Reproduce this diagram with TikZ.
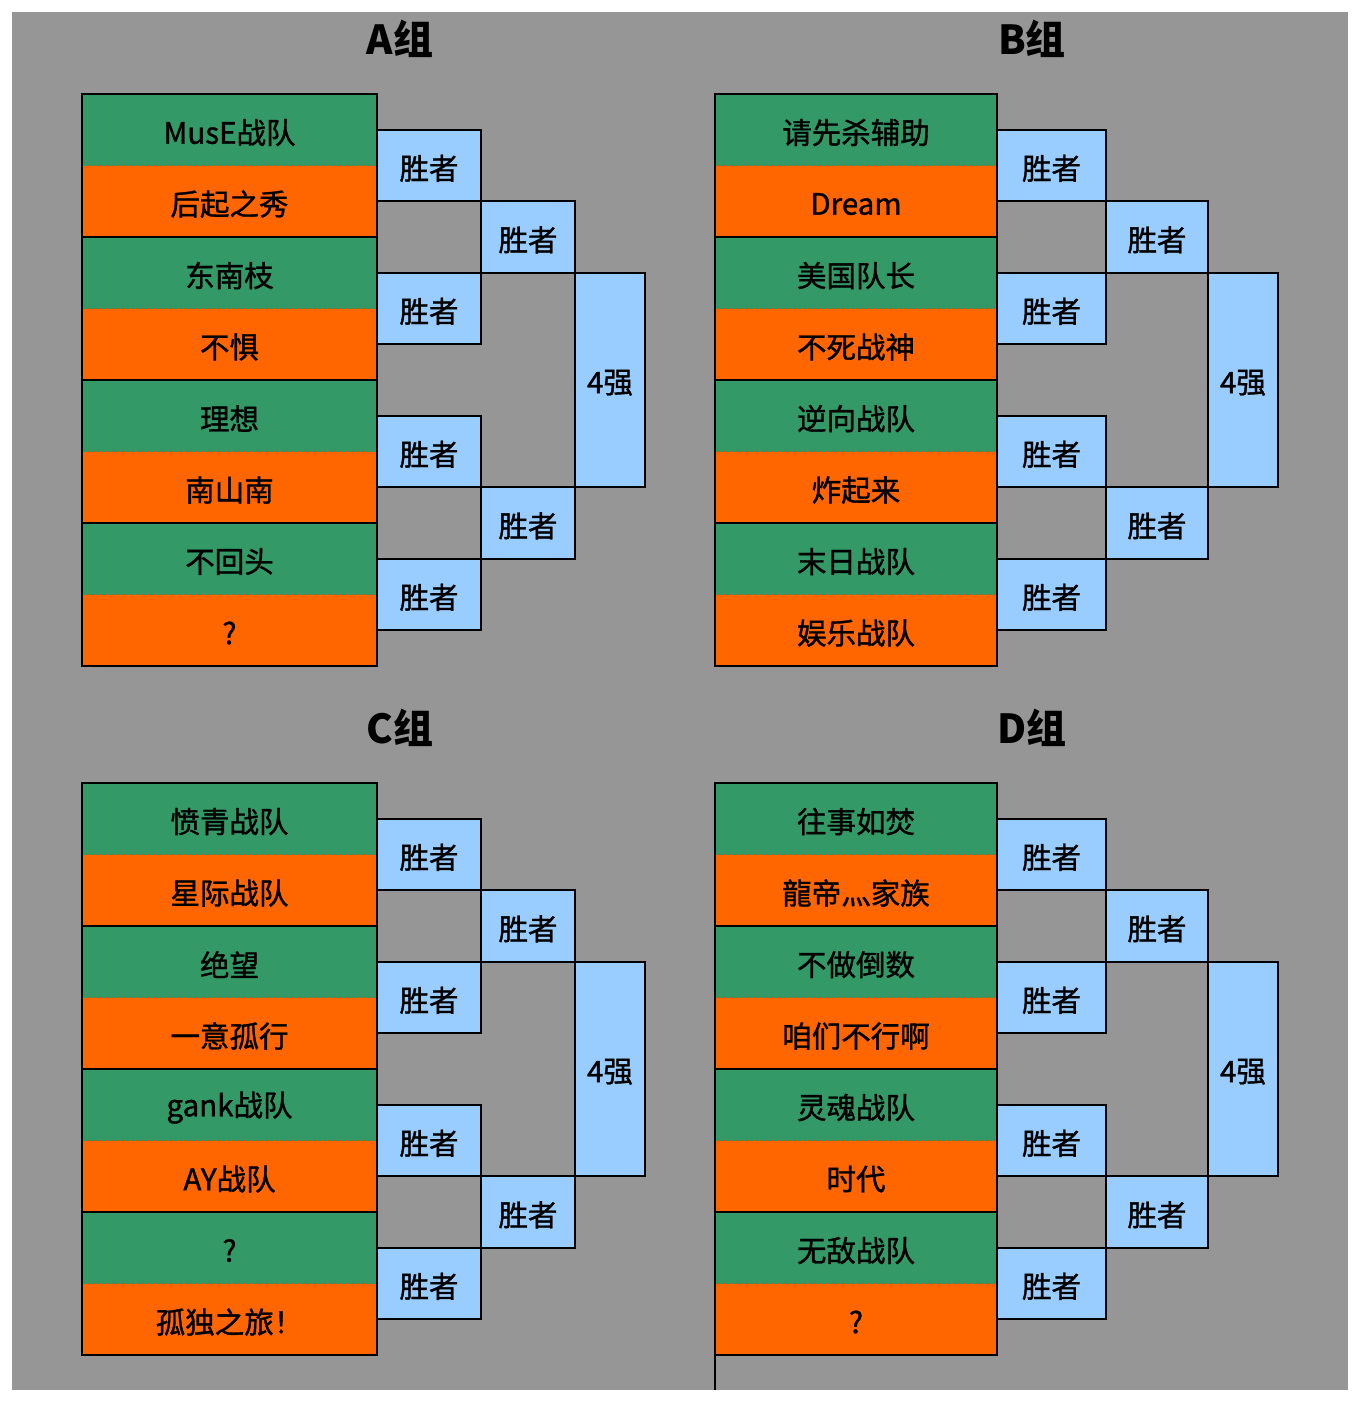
\documentclass[tikz,border=0pt]{standalone}
\usepackage{fontspec}
\setmainfont{Noto Sans CJK SC}
\newfontfamily\teamfont{Noto Sans CJK SC}[FakeBold=1.2]
\definecolor{tgreen}{RGB}{51,153,102}
\definecolor{torange}{RGB}{255,102,0}
\definecolor{tblue}{RGB}{153,204,255}
\definecolor{bggray}{RGB}{150,150,150}
\tikzset{
  team/.style={inner sep=0pt, outer sep=0pt, font=\teamfont\fontsize{29.5}{30}\selectfont, text=black},
  winbox/.style={draw=black, line width=2pt, fill=tblue, inner sep=0pt, outer sep=0pt, font=\teamfont\fontsize{29.5}{30}\selectfont, text=black},
  grouptitle/.style={font=\fontsize{40}{44}\selectfont\bfseries, inner sep=0pt},
  rule/.style={draw=black, line width=2pt},
  pairsep/.style={draw=torange!80!black, line width=1pt, dotted},
}
\newcommand\lowered[1]{\raisebox{-2.8pt}[\height][\depth]{#1}}
% #1 id, #2 left x of teams, #3 right x of teams, #4 right x round1, #5 right x round2, #6 right x final, #7 top y, #8 names
\newcommand\bracketgroup[8]{%
  \def\rh{71.5}%
  \foreach \nm [count=\i] in {#8} {
    \ifodd\i \def\fc{tgreen}\else \def\fc{torange}\fi
    \node[team, fill=\fc, minimum width={(#3-#2)*1pt}, minimum height={\rh*1pt}]
      (#1-\i) at ({(#2+#3)/2},{#7+(\i-0.5)*\rh}) {\lowered{\nm}};
  }
  \foreach \k in {1,3,5,7}
    \draw[pairsep] (#1-\k.south west) -- (#1-\k.south east);
  \foreach \k in {2,4,6}
    \draw[rule] (#1-\k.south west) -- (#1-\k.south east);
  \draw[rule] (#1-1.north west) rectangle (#1-8.south east);
  \foreach \k in {1,...,4}
    \node[winbox, minimum width={(#4-#3)*1pt}, minimum height={\rh*1pt}]
      (#1-w\k) at ({(#3+#4)/2},{#7+(2*\k-1)*\rh}) {\lowered{胜者}};
  \foreach \m in {1,2}
    \node[winbox, minimum width={(#5-#4)*1pt}, minimum height={\rh*1pt}]
      (#1-s\m) at ({(#4+#5)/2},{#7+(4*\m-2)*\rh}) {\lowered{胜者}};
  \node[winbox, minimum width={(#6-#5)*1pt}, minimum height={3*\rh*1pt}]
    (#1-f) at ({(#5+#6)/2},{#7+4*\rh}) {\lowered{4强}};
}
\begin{document}
\begin{tikzpicture}[x=1pt,y=-1pt]
\useasboundingbox (0,0) rectangle (1360,1403);
\fill[bggray] (12,12) rectangle (1348,1390);

\node[grouptitle] (tA) at (400,39) {A组};
\node[grouptitle] (tB) at (1032,39) {B组};
\node[grouptitle] (tC) at (400,728) {C组};
\node[grouptitle] (tD) at (1032,728) {D组};

\bracketgroup{A}{82}{377}{481}{575}{645}{94}{MusE战队,后起之秀,东南枝,不惧,理想,南山南,不回头,?}
\bracketgroup{B}{715}{997}{1106}{1208}{1278}{94}{请先杀辅助,Dream,美国队长,不死战神,逆向战队,炸起来,末日战队,娱乐战队}
\bracketgroup{C}{82}{377}{481}{575}{645}{783}{愤青战队,星际战队,绝望,一意孤行,gank战队,AY战队,?,孤独之旅！}
\bracketgroup{D}{715}{997}{1106}{1208}{1278}{783}{往事如焚,龍帝灬家族,不做倒数,咱们不行啊,灵魂战队,时代,无敌战队,?}

\coordinate (Dend) at (715,1390);
\draw[rule] (D-8.south west) -- (Dend);
\end{tikzpicture}
\end{document}
